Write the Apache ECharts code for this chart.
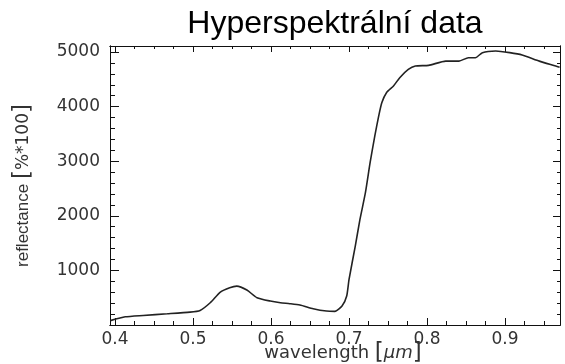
<!DOCTYPE html>
<html>
<head>
<meta charset="utf-8">
<script src="https://cdn.jsdelivr.net/npm/echarts@6/dist/echarts.min.js"></script>
<style>
  html, body { margin: 0; padding: 0; background: #fff; }
  #chart { width: 565px; height: 364px; }
</style>
</head>
<body>
<div id="chart"></div>
<script>
// wavelength [um] and reflectance [%*100]
const wavelength = [0.394, 0.413, 0.436, 0.467, 0.496, 0.509, 0.522, 0.535, 0.547, 0.556,
  0.569, 0.582, 0.599, 0.612, 0.624, 0.637, 0.654, 0.671, 0.682, 0.691,
  0.697, 0.700, 0.708, 0.714, 0.721, 0.727, 0.733, 0.738, 0.742, 0.748,
  0.757, 0.765, 0.776, 0.785, 0.802, 0.824, 0.841, 0.853, 0.862, 0.871,
  0.888, 0.906, 0.922, 0.944, 0.965, 0.970];
const reflectance = [80, 150, 175, 205, 236, 267, 408, 603, 683, 712,
  640, 500, 438, 408, 390, 365, 298, 255, 250, 346,
  530, 835, 1445, 1934, 2423, 2972, 3460, 3826, 4071, 4255,
  4377, 4530, 4681, 4743, 4755, 4833, 4833, 4896, 4896, 4988,
  5018, 4988, 4945, 4833, 4743, 4720];

// axis ticks
const xMajor = [0.4, 0.5, 0.6, 0.7, 0.8, 0.9];
const xMinor = [0.425, 0.45, 0.475, 0.525, 0.55, 0.575, 0.625, 0.65, 0.675,
  0.725, 0.75, 0.775, 0.825, 0.85, 0.875, 0.925, 0.95];
const yMajor = [1000, 2000, 3000, 4000, 5000];
const yMinor = [200, 400, 600, 800, 1200, 1400, 1600, 1800, 2200, 2400, 2600, 2800,
  3200, 3400, 3600, 3800, 4200, 4400, 4600, 4800];

const X_MIN = 0.3935, X_MAX = 0.9705;
const Y_MIN = 0, Y_MAX = 5110;

const ink = '#111';
const labelFont = { fontFamily: 'DejaVu Sans', fontSize: 17, color: '#333' };

const tickAxis = (position, values, len, extra) => Object.assign({
  type: 'value',
  position,
  axisLine: { show: true, onZero: false, lineStyle: { color: ink, width: 1 } },
  axisTick: { show: true, inside: true, length: len, customValues: values, lineStyle: { color: ink } },
  axisLabel: { show: false },
  splitLine: { show: false },
}, extra);

const chart = echarts.init(document.getElementById('chart'), null, { renderer: 'canvas' });

chart.setOption({
  animation: false,
  backgroundColor: '#fff',
  title: {
    text: 'Hyperspektrální data',
    left: 335,
    top: 8,
    padding: 0,
    textAlign: 'center',
    textStyle: { fontFamily: 'Liberation Sans', fontSize: 32, fontWeight: 'normal', color: '#000' },
  },
  grid: {
    left: 110, right: 5, top: 46, bottom: 39,
    containLabel: false,
    outerBoundsMode: 'none',
  },
  xAxis: [
    tickAxis('bottom', xMajor, 7, {
      min: X_MIN, max: X_MAX,
      axisLabel: {
        show: true, customValues: xMajor, margin: 6,
        formatter: (v) => v.toFixed(1), ...labelFont,
      },
      name: 'wavelength {b|[}{mu|μm}{b|]}',
      nameLocation: 'middle',
      nameMoveOverlap: false,
      nameGap: 18,
      nameTextStyle: {
        fontFamily: 'DejaVu Sans', fontSize: 18, color: '#333',
        lineHeight: 20,
        padding: [0, 0, 0, 16],
        rich: {
          b: { fontFamily: 'DejaVu Sans', fontSize: 23, color: '#333', lineHeight: 20 },
          mu: { fontFamily: 'DejaVu Sans', fontSize: 18, fontStyle: 'italic', color: '#333', lineHeight: 20 },
        },
      },
    }),
    tickAxis('bottom', xMinor, 4, { min: X_MIN, max: X_MAX }),
    tickAxis('top', xMajor, 6, { min: X_MIN, max: X_MAX }),
    tickAxis('top', xMinor, 3, { min: X_MIN, max: X_MAX }),
  ],
  yAxis: [
    tickAxis('left', yMajor, 9, {
      min: Y_MIN, max: Y_MAX,
      axisLabel: {
        show: true, customValues: yMajor, margin: 10,
        formatter: (v) => String(v), ...labelFont,
      },
      name: 'reflectance {b|[}{t|%*100}{b|]}',
      nameLocation: 'middle',
      nameMoveOverlap: false,
      nameGap: 75,
      nameTextStyle: {
        fontFamily: 'Liberation Sans', fontSize: 17, color: '#333',
        rich: {
          b: { fontFamily: 'DejaVu Sans', fontSize: 23, color: '#333' },
          t: { fontFamily: 'DejaVu Sans', fontSize: 17, color: '#333' },
        },
      },
    }),
    tickAxis('left', yMinor, 5, { min: Y_MIN, max: Y_MAX }),
    tickAxis('right', yMajor, 7, { min: Y_MIN, max: Y_MAX }),
    tickAxis('right', yMinor, 3, { min: Y_MIN, max: Y_MAX }),
  ],
  series: [
    {
      type: 'line',
      xAxisIndex: 0,
      yAxisIndex: 0,
      data: wavelength.map((w, i) => [w, reflectance[i]]),
      showSymbol: false,
      smooth: 0.2,
      lineStyle: { color: '#222', width: 1.6 },
    },
  ],
});
</script>
</body>
</html>
